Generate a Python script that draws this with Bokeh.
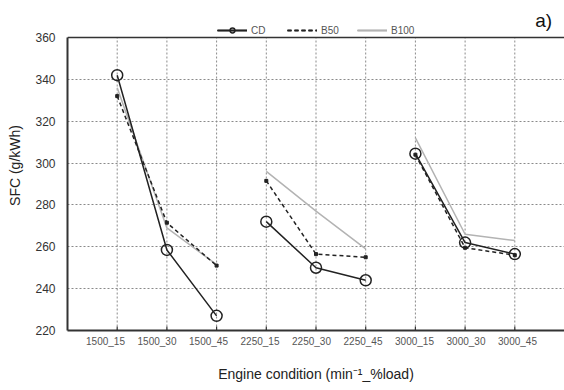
from bokeh.plotting import figure
from bokeh.models import (Legend, LegendItem, Label, Span, FixedTicker,
                          Range1d, LinearAxis)
from bokeh.embed import file_html
from bokeh.resources import INLINE

# ---- data ----
conditions = ["1500_15", "1500_30", "1500_45",
              "2250_15", "2250_30", "2250_45",
              "3000_15", "3000_30", "3000_45"]
cd = [342, 258.5, 227, 272, 250, 244, 304.5, 262, 256.5]
b50 = [332, 271.5, 251, 291.5, 256.5, 255, 304, 259.5, 256]
b100 = [336, 269, 251.5, 296, 277, 259, 312, 266, 263]
y_ticks = [220, 240, 260, 280, 300, 320, 340, 360]

FONT = "Liberation Sans"
idx = list(range(len(conditions)))
n = len(idx)

# frame reaches the top of the canvas so legend and panel tag sit inside it
p = figure(width=564, height=390, x_range=Range1d(-1, 9), y_range=Range1d(220, 377.68),
           output_backend="svg", toolbar_location=None,
           min_border_left=67, min_border_right=0, min_border_top=0, min_border_bottom=60)
p.outline_line_color = None
p.background_fill_color = "white"
p.border_fill_color = "white"
p.xaxis.visible = False
p.xgrid.visible = False

# category labels sit on a slightly wider spacing than the grid in the original
p.extra_x_ranges = {"lab": Range1d(-0.738, 8.913)}
xax = LinearAxis(x_range_name="lab", ticker=FixedTicker(ticks=idx),
                 major_label_overrides={i: c for i, c in zip(idx, conditions)})
xax.major_tick_in = 0
xax.major_tick_out = 0
xax.minor_tick_line_color = None
xax.axis_line_width = 2
xax.axis_line_color = "#333333"
xax.major_label_standoff = 5
xax.major_label_text_font = FONT
xax.major_label_text_font_size = "10px"
xax.major_label_text_color = "#555555"
xax.axis_label = "Engine condition (min\u207b\u00b9_%load)"
xax.axis_label_text_font = FONT
xax.axis_label_text_font_size = "14px"
xax.axis_label_text_font_style = "normal"
xax.axis_label_text_color = "#222222"
xax.axis_label_standoff = 16
p.add_layout(xax, "below")

# y axis
p.yaxis.bounds = (y_ticks[0], y_ticks[-1])
p.yaxis.ticker = FixedTicker(ticks=y_ticks)
p.yaxis.major_tick_in = 0
p.yaxis.major_tick_out = 0
p.yaxis.minor_tick_line_color = None
p.yaxis.axis_line_width = 2
p.yaxis.axis_line_color = "#333333"
p.yaxis.major_label_standoff = 12
p.yaxis.major_label_text_font = FONT
p.yaxis.major_label_text_font_size = "12px"
p.yaxis.major_label_text_color = "#333333"
p.yaxis.axis_label = "SFC (g/kWh)"
p.yaxis.axis_label_text_font = FONT
p.yaxis.axis_label_text_font_size = "14px"
p.yaxis.axis_label_text_font_style = "normal"
p.yaxis.axis_label_text_color = "#222222"
p.yaxis.axis_label_standoff = 9

# grid
p.ygrid.ticker = FixedTicker(ticks=y_ticks)
p.ygrid.grid_line_color = "#8a8a8a"
p.ygrid.grid_line_dash = "2 2"
p.ygrid.grid_line_width = 1
p.segment(x0=idx, y0=[y_ticks[0]] * n, x1=idx, y1=[y_ticks[-1]] * n,
          line_color="#8a8a8a", line_dash="2 2", line_width=1)
# short inward tick marks on the bottom axis
p.scatter(idx, [y_ticks[0]] * n, marker="dash", angle=1.5708, size=8,
          line_color="#333333", line_width=1.2)

# top border
p.add_layout(Span(location=y_ticks[-1], dimension="width", line_color="#333333", line_width=1.5))

# series, drawn per engine-speed group
cd_r, b50_r, b100_r = [], [], []
for g in range(3):
    s = slice(3 * g, 3 * g + 3)
    b100_r.append(p.line(idx[s], b100[s], line_color="#b3b3b3", line_width=1.5))
    b50_r.append(p.line(idx[s], b50[s], line_color="#222222", line_width=1.5, line_dash="4 3"))
    cd_r.append(p.line(idx[s], cd[s], line_color="#222222", line_width=1.5))
p.scatter(idx, b50, marker="square", size=3, color="#222222")
cd_r.append(p.scatter(idx, cd, marker="circle", size=11, fill_color=None,
                      line_color="#222222", line_width=1.5))

legend = Legend(items=[LegendItem(label="CD", renderers=cd_r),
                       LegendItem(label="B50", renderers=b50_r),
                       LegendItem(label="B100", renderers=b100_r)],
                location=(150, 294), orientation="horizontal",
                background_fill_alpha=0, border_line_color=None,
                padding=0, margin=0, spacing=16, glyph_width=30, glyph_height=12,
                label_standoff=4, label_height=12,
                label_text_font=FONT, label_text_font_size="10px", label_text_color="#555555")
p.add_layout(legend)

p.add_layout(Label(x=8.58, y=368.1, text="a)", text_align="center", text_baseline="middle",
                   text_font=FONT, text_font_size="19px", text_color="#111111"))

open("out.html", "w").write(file_html(p, INLINE))
